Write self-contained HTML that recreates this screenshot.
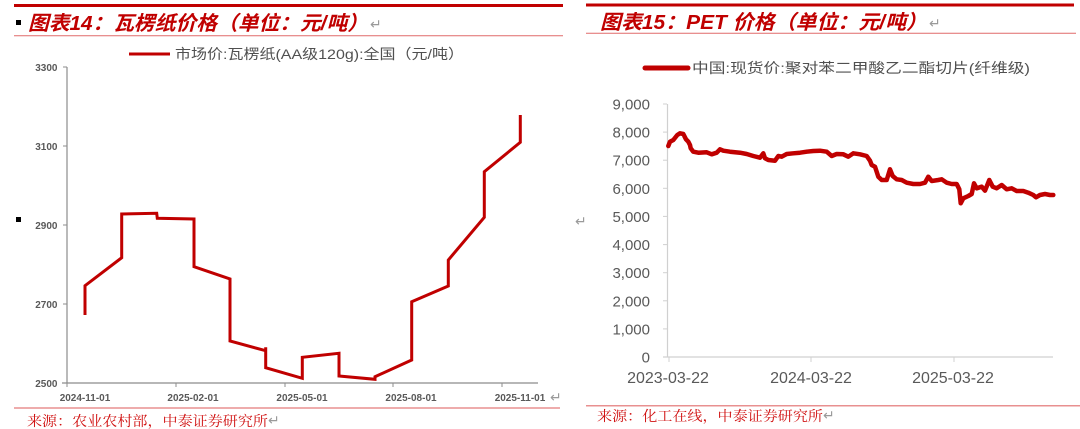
<!DOCTYPE html>
<html><head><meta charset="utf-8"><style>
html,body{margin:0;padding:0;background:#fff;}
svg{display:block;}
text{font-family:"Liberation Sans","Noto Sans CJK SC",sans-serif;}
.t{font-family:"Liberation Sans","Noto Sans CJK SC",sans-serif;font-weight:bold;font-style:italic;fill:#c00000;font-size:20px;}
.src{font-family:"Liberation Serif","Noto Serif CJK SC",serif;fill:#d01010;font-size:14px;}
.lt{font-size:10px;font-weight:bold;fill:#595959;}
.rt{font-size:15px;fill:#595959;}
.lg{font-size:14px;fill:#505050;}
.ret{fill:#9a9a9a;font-size:14px;}
</style></head><body>
<svg width="1080" height="429" viewBox="0 0 1080 429" xmlns="http://www.w3.org/2000/svg">
<!-- LEFT PANEL -->
<line x1="14" y1="5.5" x2="563" y2="5.5" stroke="#c00000" stroke-width="3"/>
<line x1="14" y1="35.7" x2="563" y2="35.7" stroke="#e06a6a" stroke-width="1"/>
<rect x="16" y="20" width="5" height="5" fill="#000"/>
<text class="t" x="28" y="30" textLength="340" lengthAdjust="spacingAndGlyphs">图表14：瓦楞纸价格（单位：元/吨）</text>
<text class="ret" x="370" y="29">↵</text>
<line x1="129" y1="54" x2="170" y2="54" stroke="#c00000" stroke-width="3"/>
<text class="lg" x="175" y="59" textLength="289" lengthAdjust="spacingAndGlyphs">市场价:瓦楞纸(AA级120g):全国（元/吨）</text>
<rect x="16" y="217" width="5" height="5" fill="#000"/>
<!-- axes -->
<line x1="67" y1="67" x2="67" y2="383" stroke="#8c8c8c" stroke-width="1.2"/>
<line x1="62" y1="383" x2="538" y2="383" stroke="#8c8c8c" stroke-width="1.2"/>
<g stroke="#8c8c8c" stroke-width="1">
<line x1="63" y1="67" x2="67" y2="67"/><line x1="63" y1="146" x2="67" y2="146"/><line x1="63" y1="225" x2="67" y2="225"/><line x1="63" y1="304" x2="67" y2="304"/>
<line x1="176" y1="383" x2="176" y2="387"/><line x1="285" y1="383" x2="285" y2="387"/><line x1="393" y1="383" x2="393" y2="387"/><line x1="502" y1="383" x2="502" y2="387"/><line x1="67" y1="383" x2="67" y2="387"/>
</g>
<g class="lt" text-anchor="end">
<text x="57.5" y="71">3300</text><text x="57.5" y="150">3100</text><text x="57.5" y="229">2900</text><text x="57.5" y="308">2700</text><text x="57.5" y="387">2500</text>
</g>
<g class="lt" text-anchor="middle">
<text x="85" y="401">2024-11-01</text><text x="193" y="401">2025-02-01</text><text x="302" y="401">2025-05-01</text><text x="411" y="401">2025-08-01</text><text x="520" y="401">2025-11-01</text>
</g>
<text class="ret" x="550" y="402">↵</text>
<path d="M85,315 L85,285.7 L121.7,257.7 L121.7,214 L156.7,213.3 L157.3,218.3 L194,219 L194,266.7 L230,279 L230,341 L265.7,350.7 L265.7,347.3 L265.7,367.7 L302.3,378.3 L302.3,357.3 L339,353.3 L339,376 L375,379.3 L375,376.7 L411.7,360 L411.7,301.7 L448.3,286 L448.3,260 L484.3,217.3 L484.3,171.7 L520.3,142.3 L520.3,115" fill="none" stroke="#c00000" stroke-width="3" stroke-linejoin="miter"/>
<line x1="14" y1="408" x2="560" y2="408" stroke="#e89090" stroke-width="1.5"/>
<text class="src" x="27" y="426" textLength="241" lengthAdjust="spacingAndGlyphs">来源：农业农村部，中泰证券研究所</text>
<text class="ret" x="268" y="425">↵</text>

<!-- RIGHT PANEL -->
<line x1="586" y1="5" x2="1074" y2="5" stroke="#c00000" stroke-width="3"/>
<line x1="586" y1="33.3" x2="1076" y2="33.3" stroke="#e06a6a" stroke-width="1"/>
<text class="t" x="600" y="29" textLength="327" lengthAdjust="spacingAndGlyphs">图表15：PET 价格（单位：元/吨）</text>
<text class="ret" x="929" y="28">↵</text>
<line x1="645" y1="68" x2="688" y2="68" stroke="#c00000" stroke-width="5" stroke-linecap="round"/>
<text class="lg" x="692" y="73" textLength="338" lengthAdjust="spacingAndGlyphs">中国:现货价:聚对苯二甲酸乙二酯切片(纤维级)</text>
<text class="ret" x="575" y="226">↵</text>
<line x1="667.5" y1="104" x2="667.5" y2="357" stroke="#d0d0d0" stroke-width="1.2"/>
<line x1="663" y1="357" x2="1053" y2="357" stroke="#d0d0d0" stroke-width="1.2"/>
<g stroke="#d0d0d0" stroke-width="1">
<line x1="663" y1="104" x2="667" y2="104"/><line x1="663" y1="132.1" x2="667" y2="132.1"/><line x1="663" y1="160.2" x2="667" y2="160.2"/><line x1="663" y1="188.3" x2="667" y2="188.3"/><line x1="663" y1="216.4" x2="667" y2="216.4"/><line x1="663" y1="244.6" x2="667" y2="244.6"/><line x1="663" y1="272.7" x2="667" y2="272.7"/><line x1="663" y1="300.8" x2="667" y2="300.8"/><line x1="663" y1="328.9" x2="667" y2="328.9"/>
<line x1="669" y1="357" x2="669" y2="362"/><line x1="811" y1="357" x2="811" y2="362"/><line x1="954" y1="357" x2="954" y2="362"/>
</g>
<g class="rt" text-anchor="end">
<text x="650" y="109.5">9,000</text><text x="650" y="137.6">8,000</text><text x="650" y="165.7">7,000</text><text x="650" y="193.8">6,000</text><text x="650" y="221.9">5,000</text><text x="650" y="250.1">4,000</text><text x="650" y="278.2">3,000</text><text x="650" y="306.3">2,000</text><text x="650" y="334.4">1,000</text><text x="650" y="362.5">0</text>
</g>
<g class="rt" text-anchor="middle" style="font-size:16px">
<text x="668" y="383">2023-03-22</text><text x="811" y="383">2024-03-22</text><text x="953" y="383">2025-03-22</text>
</g>
<path d="M668.3,146 L670,141.7 L673.3,140 L677.3,135 L680,133.3 L683.3,134 L686,139.3 L688.3,141.7 L690,145 L690.7,148.3 L693.3,151.7 L698.3,152.7 L706.7,152.3 L711.7,154.3 L716.7,152.7 L720,149.3 L723.3,150.7 L730,151.7 L740,152.7 L746.7,154 L753.3,156 L760,157.7 L763.3,153.3 L765,158.3 L768.3,160 L775,160.7 L778.3,156 L781.7,156.7 L786.7,154 L793.3,153.3 L800,152.7 L806.7,151.7 L813.3,151 L820,150.7 L826.7,151.7 L831.7,156 L836.7,154 L843.3,154.3 L848.3,156.7 L853.3,153.3 L860,154.3 L866.7,156 L870,160.7 L871.7,165 L875,166.7 L878.3,176.7 L881.7,180 L886.7,180 L890,169.3 L892.7,176 L896.7,179.3 L901.7,180 L906.7,182.7 L913.3,184 L920,184 L925,182.7 L928.3,176.7 L931.7,181 L938.3,180 L941.7,179.3 L946.7,182.7 L951.7,184 L956.7,184 L959.3,189.3 L960.7,203.3 L963.3,198.3 L968.3,196 L971.7,194 L974,183.3 L976.7,188.3 L981.7,186.7 L985,190.7 L989.3,180 L992.7,186.7 L996.7,188.3 L1001.7,185 L1006.7,189.3 L1011.7,188.3 L1016.7,191 L1023.3,191 L1028.3,192.7 L1033.3,195 L1036,197.3 L1040,195 L1045,194 L1050,195 L1053.3,195" fill="none" stroke="#c00000" stroke-width="4.5" stroke-linejoin="round" stroke-linecap="round"/>
<line x1="586" y1="405.7" x2="1080" y2="405.7" stroke="#e89090" stroke-width="1.5"/>
<text class="src" x="597" y="421" textLength="226" lengthAdjust="spacingAndGlyphs">来源：化工在线，中泰证券研究所</text>
<text class="ret" x="823" y="420">↵</text>
</svg>
</body></html>
